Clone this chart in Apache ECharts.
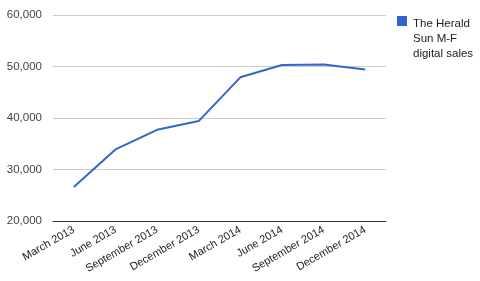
<!DOCTYPE html>
<html><head><meta charset="utf-8">
<script src="https://cdn.jsdelivr.net/npm/echarts@6/dist/echarts.min.js"></script>
<style>html,body{margin:0;padding:0;background:#fff}#c{width:480px;height:281px}</style>
</head><body><div id="c"></div>
<script>
const categories = ["March 2013","June 2013","September 2013","December 2013","March 2014","June 2014","September 2014","December 2014"];
const seriesName = "The Herald Sun M-F digital sales";
const values = [26600, 33900, 37700, 39400, 47900, 50300, 50400, 49400];
const yTicks = {min: 20000, max: 60000, interval: 10000};

const chart = echarts.init(document.getElementById('c'));
chart.setOption({
  animation: false,
  textStyle: {fontFamily: 'Liberation Sans, Arial, sans-serif'},
  grid: {left: 53, right: 94, top: 15, bottom: 60},
  legend: {
    data: [seriesName],
    left: 397, top: 16, padding: 0,
    icon: 'path://M0,0L10,0L10,10L0,10Z M0,45L10,45',
    itemWidth: 10, itemHeight: 45, itemGap: 0,
    itemStyle: {borderWidth: 0, color: '#3366cc'},
    lineStyle: {width: 0},
    formatter: () => 'The Herald\nSun M-F\ndigital sales',
    textStyle: {fontSize: 11.5, color: '#222', lineHeight: 15, padding: [-1, 0, 0, 1]}
  },
  xAxis: {
    type: 'category', data: categories, boundaryGap: true,
    axisLine: {lineStyle: {color: '#333', width: 1}},
    axisTick: {show: false},
    axisLabel: {rotate: 30, interval: 0, fontSize: 11, color: '#222', margin: 8}
  },
  yAxis: {
    type: 'value', min: yTicks.min, max: yTicks.max, interval: yTicks.interval,
    axisLine: {show: false}, axisTick: {show: false},
    splitLine: {lineStyle: {color: '#ccc'}},
    axisLabel: {fontSize: 11.5, color: '#444', margin: 11,
      formatter: v => v.toLocaleString('en-US')}
  },
  series: [{
    name: seriesName, type: 'line', data: values,
    symbol: 'none', lineStyle: {color: '#3366cc', width: 2}, itemStyle: {color: '#3366cc'}
  }]
});
</script></body></html>
